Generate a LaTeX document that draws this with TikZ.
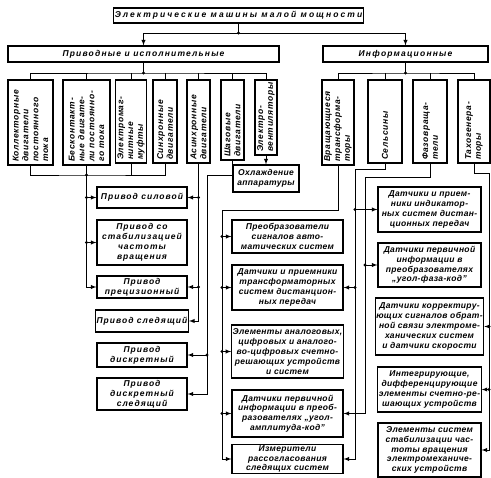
\documentclass[tikz,border=0pt]{standalone}
\usepackage{fontspec}
\setmainfont{Liberation Sans}
\newcommand{\dfont}{\bfseries\itshape\fontsize{8.5}{9.8}\selectfont}

\tikzset{
  box/.style={draw, line width=1.2pt, align=center, inner sep=1pt,
    font=\dfont\addfontfeature{LetterSpace=4}},
  title/.style={box, font=\dfont\addfontfeature{LetterSpace=#1}},
  drive/.style={box, font=\dfont\addfontfeature{LetterSpace=12}},
  vbox/.style={draw, line width=1.2pt, rotate=90, align=left, inner sep=2pt,
    font=\dfont\addfontfeature{LetterSpace=8}},
  wh/.style 2 args={minimum width=#1pt, minimum height=#2pt},
  vwh/.style n args={3}{minimum height=#1pt, minimum width=#2pt, text width=#3pt},
  link/.style={line width=0.9pt},
  arrow/.style={link, -latex},
  dot/.style={circle, fill, inner sep=0pt, minimum size=3.2pt}}

\begin{document}
\begin{tikzpicture}[x=1pt, y=1pt]
    \useasboundingbox (0,0) rectangle (491,-478);
    % upper levels
    \node[title=24, wh={237}{15}] (top) at (238.5,-15.5) {Электрические машины малой мощности};
    \node[title=14, wh={271}{16}] (prv) at (143.5,-54) {Приводные и исполнительные};
    \node[title=14, wh={165}{16}] (inf) at (405.5,-54) {Информационные};
    \node[vbox, vwh={45}{85}{79}] (v1) at (30.5,-122.5) {Коллекторные\\двигатели\\постоянного\\тока};
    \node[vbox, vwh={47}{85}{79}] (v2) at (86.5,-122.5) {Бесконтакт-\\ные двигате-\\ли постоянно-\\го тока};
    \node[vbox, vwh={24}{83}{77}] (v3) at (131,-121.5) {Электромаг-\\нитные муфты};
    \node[vbox, vwh={24}{83}{77}] (v4) at (165,-121.5) {Синхронные\\двигатели};
    \node[vbox, vwh={23}{83}{77}] (v5) at (198.5,-121.5) {Асинхронные\\двигатели};
    \node[vbox, vwh={23}{80}{74}] (v6) at (232.5,-120) {Шаговые\\двигатели};
    \node[vbox, vwh={22}{75}{69}] (v7) at (266,-117.5) {Электро-\\вентиляторы};
    \node[vbox, vwh={32}{85}{79}] (v8) at (338,-122.5) {Вращающиеся\\трансформа-\\торы};
    \node[vbox, vwh={34}{83}{77}] (v9) at (385,-121.5) {Сельсины};
    \node[vbox, vwh={34}{83}{77}] (v10) at (430,-121.5) {Фазовраща-\\тели};
    \node[vbox, vwh={32}{83}{77}] (v11) at (474,-121.5) {Тахогенера-\\торы};
    \node[box, wh={66}{27}] (cool) at (266,-178.5) {Охлаждение\\аппаратуры};
    % drives
    \node[drive, wh={90}{21}] (p1) at (142,-197.5) {Привод силовой};
    \node[drive, wh={90}{45}] (p2) at (142,-242.5) {Привод со\\стабилизацией\\частоты\\вращения};
    \node[drive, wh={90}{22}] (p3) at (142,-287) {Привод\\прецизионный};
    \node[drive, wh={90}{22}] (p4) at (142,-321) {Привод следящий};
    \node[drive, wh={90}{24}] (p5) at (142,-355) {Привод\\дискретный};
    \node[drive, wh={90}{32}] (p6) at (142,-394) {Привод\\дискретный\\следящий};
    % middle column
    \node[box, wh={111}{33}] (m1) at (287.5,-236.5) {Преобразователи\\сигналов авто-\\матических систем};
    \node[box, wh={111}{45}] (m2) at (287.5,-287.5) {Датчики и приемники\\трансформаторных\\систем дистанцион-\\ных передач};
    \node[box, wh={111}{53}] (m3) at (287.5,-351.5) {Элементы аналоговых,\\цифровых и аналого-\\во-цифровых счетно-\\решающих устройств\\и систем};
    \node[box, wh={111}{47}] (m4) at (287.5,-413.5) {Датчики первичной\\информации в преоб-\\разователях „угол-\\амплитуда-код”};
    \node[box, wh={111}{28}] (m5) at (287.5,-459) {Измерители\\рассогласования\\следящих систем};
    % right column
    \node[box, wh={103}{45}] (r1) at (429.5,-209.5) {Датчики и прием-\\ники индикатор-\\ных систем дистан-\\ционных передач};
    \node[box, wh={103}{44}] (r2) at (429.5,-265) {Датчики первичной\\информации в\\преобразователях\\„угол-фаза-код”};
    \node[box, wh={103}{57}] (r3) at (429.5,-326.5) {Датчики корректиру-\\ющих сигналов обрат-\\ной связи электроме-\\ханических систем\\и датчики скорости};
    \node[box, wh={103}{45}] (r4) at (429.5,-389.5) {Интегрирующие,\\дифференцирующие\\элементы счетно-ре-\\шающих устройств};
    \node[box, wh={103}{54}] (r5) at (429.5,-450) {Элементы систем\\стабилизации час-\\тоты вращения\\электромеханиче-\\ских устройств};

    % top connections
    \coordinate (t0) at (top.south |- 0,-33);
    \draw[link] (top.south) -- (t0);
    \draw[arrow] (t0) -| (prv.north);
    \draw[arrow] (t0) -| (inf.north);
    \node[dot] at (t0) {};
    \coordinate (t1) at (prv.south |- 0,-73);
    \draw[link] (prv.south) -- (t1);
    \draw[link] (v1.east) |- (t1) -| (v7.east);
    \foreach \v in {v2,v3,v4,v5,v6}
        \draw[link] (\v.east) -- (\v.east |- t1);
    \node[dot] at (t1) {};
    \coordinate (t2) at (inf.south |- 0,-73);
    \draw[link] (inf.south) -- (t2);
    \draw[link] (v8.east) |- (t2) -| (v11.east);
    \foreach \v in {v9,v10}
        \draw[link] (\v.east) -- (\v.east |- t2);
    \node[dot] at (t2) {};

    % motors -> drives
    \coordinate (b1) at (v2.west |- 0,-175);
    \draw[link] (v1.west) |- (b1) -| (v4.west);
    \draw[link] (v2.west) -- (b1);
    \draw[link] (v3.west) -- (v3.west |- b1);
    \draw[arrow] (b1) |- (p3.west);
    \foreach \p in {p1,p2} {
        \draw[arrow] (b1 |- \p.west) -- (\p.west);
        \node[dot] at (b1 |- \p.west) {};
    }
    \node[dot] at (b1) {};
    \draw[arrow] (v5.west) |- (p4.east);
    \foreach \p in {p1,p3} {
        \draw[arrow] (v5.west |- \p.east) -- (\p.east);
        \node[dot] at (v5.west |- \p.east) {};
    }
    \coordinate (b3) at (207,-175);
    \draw[arrow] (v6.west) |- (b3) |- (p6.east);
    \draw[arrow] (b3 |- p5.east) -- (p5.east);
    \node[dot] at (b3 |- p5.east) {};
    \draw[arrow] (v7.west) -- (cool.north);

    % information machines
    \coordinate (b4) at (222,-210);
    \draw[arrow] (v8.west) |- (b4) |- (m5.west);
    \foreach \m in {m1,m2,m3,m4} {
        \draw[arrow] (b4 |- \m.west) -- (\m.west);
        \node[dot] at (b4 |- \m.west) {};
    }
    \coordinate (b5) at (355,-169);
    \draw[arrow] (v9.west) |- (b5) |- (m5.east);
    \draw[arrow] (b5 |- r1.west) -- (r1.west);
    \draw[arrow] (b5 |- m2.east) -- (m2.east);
    \node[dot] at (b5 |- r1.west) {};
    \node[dot] at (b5 |- m2.east) {};
    \coordinate (b6) at (365,-177);
    \draw[arrow] (v10.west) |- (b6) |- (m4.east);
    \draw[arrow] (b6 |- r2.west) -- (r2.west);
    \node[dot] at (b6 |- r2.west) {};
    \coordinate (b7) at (489,-173);
    \draw[arrow] (v11.west) |- (b7) |- (r5.east);
    \foreach \r in {r3,r4} {
        \draw[arrow] (b7 |- \r.east) -- (\r.east);
        \node[dot] at (b7 |- \r.east) {};
    }
\end{tikzpicture}
\end{document}
